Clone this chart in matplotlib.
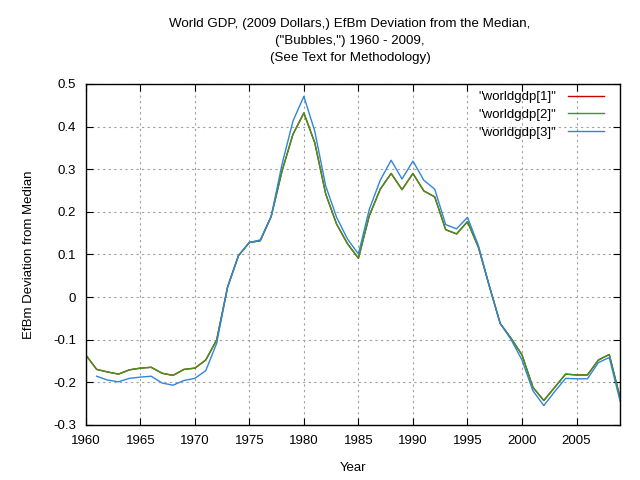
import numpy as np
import matplotlib.pyplot as plt

plt.rcParams['font.family'] = ['Liberation Sans', 'DejaVu Sans']

anos = list(range(1960, 2010))

# worldgdp[1] e worldgdp[2] praticamente iguais
serie_2 = [-0.136, -0.170, -0.176, -0.181, -0.171, -0.167, -0.165, -0.179, -0.184, -0.170,
           -0.167, -0.148, -0.101, 0.023, 0.097, 0.128, 0.132, 0.189, 0.296, 0.382,
           0.432, 0.362, 0.242, 0.171, 0.125, 0.091, 0.191, 0.253, 0.290, 0.252,
           0.290, 0.249, 0.235, 0.158, 0.148, 0.177, 0.117, 0.026, -0.062, -0.097,
           -0.136, -0.212, -0.243, -0.212, -0.181, -0.183, -0.183, -0.148, -0.135, -0.237]
serie_1 = list(serie_2)

# worldgdp[3] começa em 1961
serie_3 = [np.nan, -0.186, -0.195, -0.199, -0.191, -0.188, -0.186, -0.202, -0.207, -0.196,
           -0.191, -0.173, -0.109, 0.023, 0.097, 0.128, 0.134, 0.189, 0.312, 0.413,
           0.471, 0.389, 0.261, 0.187, 0.136, 0.101, 0.206, 0.274, 0.321, 0.277,
           0.319, 0.274, 0.253, 0.170, 0.160, 0.187, 0.121, 0.026, -0.062, -0.100,
           -0.148, -0.220, -0.255, -0.222, -0.191, -0.192, -0.192, -0.154, -0.142, -0.245]

fig = plt.figure(figsize=(6.4, 4.8), dpi=100)
ax = fig.add_axes([0.134, 0.115, 0.835, 0.71])

ax.plot(anos, serie_1, color='#c80000', lw=1.0, label='"worldgdp[1]"')
ax.plot(anos, serie_2, color='#3a9a1a', lw=1.0, label='"worldgdp[2]"')
ax.plot(anos, serie_3, color='#2f86d6', lw=1.0, label='"worldgdp[3]"')

ax.set_xlim(1960, 2009)
ax.set_ylim(-0.3, 0.5)
ax.set_xticks(range(1960, 2006, 5))
ax.set_yticks(np.arange(-0.3, 0.51, 0.1))
ax.set_yticklabels(['-0.3', '-0.2', '-0.1', '0', '0.1', '0.2', '0.3', '0.4', '0.5'])
ax.tick_params(direction='in', top=True, right=True, labelsize=9.5, length=5, pad=7)
ax.grid(True, color='#a0a0a0', linestyle=(0, (2, 3)), lw=0.8)
for lado in ax.spines.values():
    lado.set_linewidth(1.0)

ax.set_xlabel('Year', fontsize=9.5, labelpad=11)
ax.set_ylabel('EfBm Deviation from Median', fontsize=9.5, labelpad=13)

fig.text(0.547, 0.962, 'World GDP, (2009 Dollars,) EfBm Deviation from the Median,\n'
         '("Bubbles,") 1960 - 2009,\n(See Text for Methodology)',
         ha='center', va='top', fontsize=9.6, linespacing=1.52)

leg = ax.legend(loc='upper right', bbox_to_anchor=(604 / 640, 1 - 91 / 480),
                bbox_transform=fig.transFigure, frameon=False, fontsize=9.5,
                markerfirst=False, handlelength=2.75, handletextpad=0.9,
                labelspacing=0.42, borderaxespad=0, borderpad=0)

fig.savefig('out.png', dpi=100)
